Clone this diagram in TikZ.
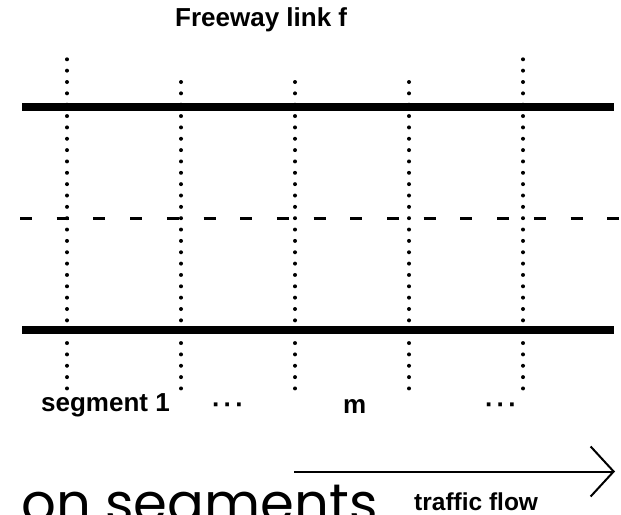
\documentclass[tikz,border=0pt]{standalone}
\usepackage{fontspec}
\setmainfont{Liberation Sans}
\newfontfamily\bigfont{Poppins}
\usetikzlibrary{arrows.meta}
\begin{document}
\begin{tikzpicture}[x=1pt,y=-1pt,
  road/.style={line width=8pt},
  lanediv/.style={line width=3pt, dash pattern=on 12pt off 24.7pt},
  segdiv/.style={line width=4pt, line cap=round, dash pattern=on 0pt off 11.35pt},
  lbl/.style={inner sep=0pt, font=\bfseries\fontsize{26}{30}\selectfont},
  smalllbl/.style={inner sep=0pt, font=\bfseries\fontsize{24.5}{28}\selectfont},
  flow/.style={line width=2pt, -{Straight Barb[length=23pt,width=50pt,line width=2pt]}}
]
\useasboundingbox (0,0) rectangle (621,514);
\clip (0,0) rectangle (621,514);
\fill[white] (0,0) rectangle (621,514);

% roads
\coordinate (r1a) at (22,107);  \coordinate (r1b) at (614,107);
\coordinate (r2a) at (22,330);  \coordinate (r2b) at (614,330);
\coordinate (lda) at (20,218.5); \coordinate (ldb) at (621,218.5);
\draw[road] (r1a) -- (r1b);
\draw[road] (r2a) -- (r2b);
\draw[lanediv] (lda) -- (ldb);

% segment boundaries
\coordinate (s1t) at (67,59.3);   \coordinate (s1b) at (67,390);
\coordinate (s2t) at (181,82);    \coordinate (s2b) at (181,390);
\coordinate (s3t) at (295,82);    \coordinate (s3b) at (295,390);
\coordinate (s4t) at (409,82);    \coordinate (s4b) at (409,390);
\coordinate (s5t) at (523,59.3);  \coordinate (s5b) at (523,390);
\foreach \i in {1,...,5} { \draw[segdiv] (s\i t) -- (s\i b); }

% labels
\node[lbl, anchor=base west] (title) at (175,27) {Freeway link f};
\node[lbl, anchor=base west] (seg1) at (41,411) {segment 1};
\node[lbl, anchor=base] (dots1) at (228,413) {·\kern3pt·\kern3pt·};
\node[lbl, anchor=base west] (segm) at (343,413) {m};
\node[lbl, anchor=base] (dots2) at (501,413) {·\kern3pt·\kern3pt·};

% traffic flow arrow
\coordinate (fa) at (294,471.5);
\coordinate (fb) at (615,471.5);
\draw[flow] (fa) -- (fb);
\node[smalllbl, anchor=base west] (flowlbl) at (414,510) {traffic flow};

% large caption
\node[inner sep=0pt, anchor=base west, font=\bigfont\fontsize{54.5}{60}\selectfont] (cap) at (21,522) {on segments};
\end{tikzpicture}
\end{document}
